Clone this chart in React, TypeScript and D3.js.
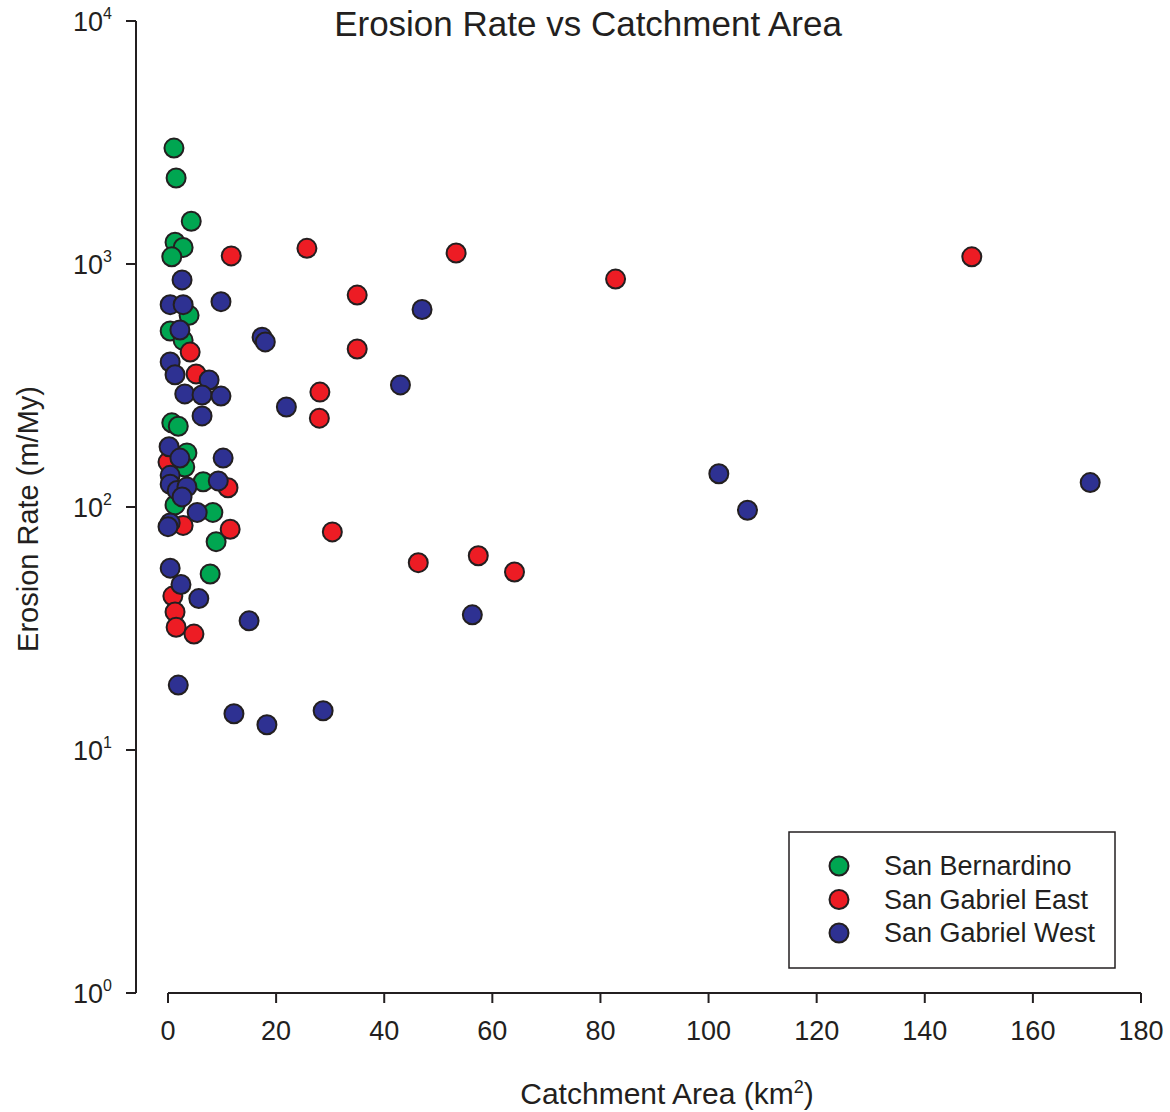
import React from "react"
import * as d3 from "d3"

// [catchment area km², erosion rate m/My]
const sanBernardino: [number, number][] = [
  [1.1, 3000], [1.5, 2260], [4.3, 1500], [1.3, 1230], [2.8, 1170], [0.7, 1070],
  [3.9, 615], [0.4, 530], [2.8, 485], [0.7, 222], [1.9, 215], [3.5, 167],
  [3.1, 146], [6.5, 127], [1.3, 102], [8.3, 95], [8.9, 72], [7.8, 53],
]

const sanGabrielEast: [number, number][] = [
  [11.7, 1080], [25.7, 1160], [53.3, 1110], [148.7, 1070], [82.8, 867], [35.0, 745],
  [35.0, 447], [4.1, 434], [5.2, 353], [28.1, 297], [28.0, 232], [0.0, 153],
  [11.1, 120], [2.8, 84], [11.5, 81], [30.4, 79], [46.3, 59], [57.4, 63],
  [64.1, 54], [0.9, 43], [1.3, 37], [1.5, 32], [4.8, 30],
]

const sanGabrielWest: [number, number][] = [
  [2.6, 860], [0.4, 680], [2.8, 680], [9.8, 700], [47.0, 650], [2.2, 535],
  [17.4, 500], [18.0, 478], [0.4, 395], [1.3, 350], [7.6, 333], [3.1, 292],
  [6.3, 289], [9.8, 286], [43.0, 318], [21.9, 258], [6.3, 237], [0.2, 177],
  [2.2, 159], [10.2, 159], [101.9, 137], [0.4, 135], [0.4, 124], [1.7, 117],
  [3.5, 121], [2.6, 110], [9.3, 128], [170.6, 126], [107.2, 97], [5.4, 95],
  [0.4, 86], [0.0, 83], [0.4, 56], [2.4, 48], [5.7, 42], [15.0, 34],
  [56.3, 36], [1.9, 18.5], [12.2, 14.1], [18.3, 12.7], [28.7, 14.5],
]

const series = [
  { name: "San Bernardino", color: "#00a651", data: sanBernardino },
  { name: "San Gabriel East", color: "#ed1c24", data: sanGabrielEast },
  { name: "San Gabriel West", color: "#2e3192", data: sanGabrielWest },
]

const xTicks = [0, 20, 40, 60, 80, 100, 120, 140, 160, 180]
const yTicks = [1, 10, 100, 1000, 10000]

const ink = "#231f20"
const font = "'Liberation Sans', Arial, Helvetica, sans-serif"

export default function App() {
  const width = 1170
  const height = 1112

  const x = d3.scaleLinear().domain([0, 180]).range([168, 1141])
  const y = d3.scaleLog().domain([1, 10000]).range([993, 21])
  const axisX = 136
  const axisY = 993

  return (
    <svg
      width={width}
      height={height}
      style={{ position: "absolute", left: 0, top: 0, background: "#fff" }}
      fontFamily={font}
    >
      <text x={588} y={36} textAnchor="middle" fontSize={35} fill={ink}>
        Erosion Rate vs Catchment Area
      </text>

      {/* y axis */}
      <line x1={axisX} x2={axisX} y1={y(10000)} y2={y(1)} stroke={ink} strokeWidth={2} />
      {yTicks.map(t => (
        <g key={t}>
          <line x1={axisX - 10} x2={axisX} y1={y(t)} y2={y(t)} stroke={ink} strokeWidth={2} />
          <text x={112} y={y(t) + 10} textAnchor="end" fontSize={27} fill={ink}>
            10<tspan fontSize={16} dy={-12}>{Math.round(Math.log10(t))}</tspan>
          </text>
        </g>
      ))}

      {/* x axis */}
      <line x1={x(0)} x2={x(180)} y1={axisY} y2={axisY} stroke={ink} strokeWidth={2} />
      {xTicks.map(t => (
        <g key={t}>
          <line x1={x(t)} x2={x(t)} y1={axisY} y2={axisY + 10} stroke={ink} strokeWidth={2} />
          <text x={x(t)} y={1040} textAnchor="middle" fontSize={27} fill={ink}>
            {t}
          </text>
        </g>
      ))}

      <text
        transform="translate(38,519) rotate(-90)"
        textAnchor="middle"
        fontSize={29}
        fill={ink}
      >
        Erosion Rate (m/My)
      </text>
      <text x={667} y={1104} textAnchor="middle" fontSize={30} fill={ink}>
        Catchment Area (km<tspan fontSize={18} dy={-11}>2</tspan>
        <tspan dy={11}>)</tspan>
      </text>

      {/* points */}
      {series.map(s => (
        <g key={s.name}>
          {s.data.map((d, i) => (
            <circle
              key={i}
              cx={x(d[0])}
              cy={y(d[1])}
              r={9.5}
              fill={s.color}
              stroke={ink}
              strokeWidth={2}
            />
          ))}
        </g>
      ))}

      {/* legend */}
      <rect x={789} y={832} width={326} height={136} fill="#fff" stroke={ink} strokeWidth={1.5} />
      {series.map((s, i) => (
        <g key={s.name} transform={`translate(0,${866 + i * 33.5})`}>
          <circle cx={839} cy={0} r={9.5} fill={s.color} stroke={ink} strokeWidth={2} />
          <text x={884} y={9} fontSize={27} fill={ink}>
            {s.name}
          </text>
        </g>
      ))}
    </svg>
  )
}
